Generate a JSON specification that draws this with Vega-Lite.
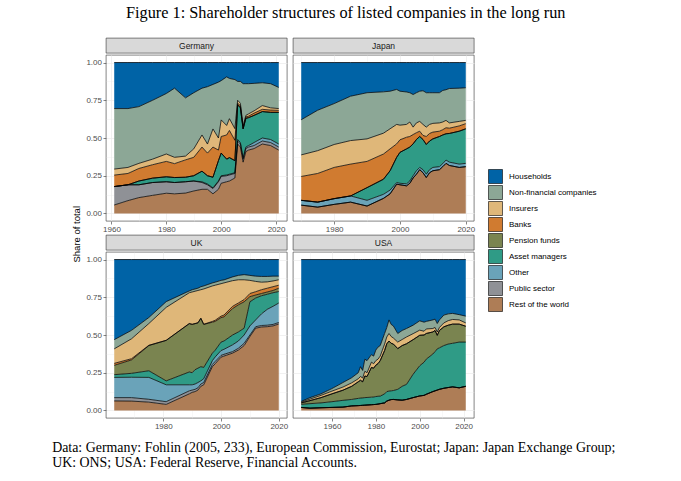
{
  "$schema": "https://vega.github.io/schema/vega-lite/v6.json",
  "padding": {"left": 52, "top": 5, "right": 5, "bottom": 5},
  "title": {"text": "Figure 1: Shareholder structures of listed companies in the long run", "font": "Liberation Serif", "fontSize": 16.3, "fontWeight": "normal", "color": "black", "anchor": "middle", "offset": 16, "dx": 12},
  "datasets": {
    "holders": [
      {"k": "rw", "holder": "Rest of the world", "rank": 1},
      {"k": "ps", "holder": "Public sector", "rank": 2},
      {"k": "ot", "holder": "Other", "rank": 3},
      {"k": "am", "holder": "Asset managers", "rank": 4},
      {"k": "pf", "holder": "Pension funds", "rank": 5},
      {"k": "bk", "holder": "Banks", "rank": 6},
      {"k": "ins", "holder": "Insurers", "rank": 7},
      {"k": "nf", "holder": "Non-financial companies", "rank": 8},
      {"k": "hh", "holder": "Households", "rank": 9}
    ],
    "shares": [
      {"c": "Germany", "year": 1961, "rw": 0.056, "ps": 0.122, "ot": 0, "am": 0, "pf": 0, "bk": 0.076, "ins": 0.040, "nf": 0.401, "hh": 0.305},
      {"c": "Germany", "year": 1966, "rw": 0.085, "ps": 0.105, "ot": 0, "am": 0, "pf": 0, "bk": 0.075, "ins": 0.040, "nf": 0.390, "hh": 0.305},
      {"c": "Germany", "year": 1970, "rw": 0.105, "ps": 0.085, "ot": 0, "am": 0.025, "pf": 0, "bk": 0.083, "ins": 0.034, "nf": 0.376, "hh": 0.292},
      {"c": "Germany", "year": 1975, "rw": 0.120, "ps": 0.085, "ot": 0, "am": 0.029, "pf": 0, "bk": 0.089, "ins": 0.037, "nf": 0.390, "hh": 0.250},
      {"c": "Germany", "year": 1980, "rw": 0.134, "ps": 0.076, "ot": 0, "am": 0.033, "pf": 0, "bk": 0.102, "ins": 0.049, "nf": 0.401, "hh": 0.205},
      {"c": "Germany", "year": 1983, "rw": 0.130, "ps": 0.075, "ot": 0, "am": 0.033, "pf": 0, "bk": 0.092, "ins": 0.042, "nf": 0.458, "hh": 0.170},
      {"c": "Germany", "year": 1987, "rw": 0.135, "ps": 0.075, "ot": 0, "am": 0.030, "pf": 0, "bk": 0.115, "ins": 0.025, "nf": 0.386, "hh": 0.234},
      {"c": "Germany", "year": 1990, "rw": 0.149, "ps": 0.066, "ot": 0, "am": 0.035, "pf": 0, "bk": 0.122, "ins": 0.056, "nf": 0.372, "hh": 0.200},
      {"c": "Germany", "year": 1993, "rw": 0.160, "ps": 0.045, "ot": 0.005, "am": 0.070, "pf": 0, "bk": 0.160, "ins": 0.080, "nf": 0.310, "hh": 0.170},
      {"c": "Germany", "year": 1995, "rw": 0.160, "ps": 0.030, "ot": 0.005, "am": 0.055, "pf": 0, "bk": 0.150, "ins": 0.060, "nf": 0.380, "hh": 0.160},
      {"c": "Germany", "year": 1997, "rw": 0.130, "ps": 0.035, "ot": 0.005, "am": 0.070, "pf": 0, "bk": 0.200, "ins": 0.120, "nf": 0.295, "hh": 0.145},
      {"c": "Germany", "year": 1999, "rw": 0.160, "ps": 0.050, "ot": 0.005, "am": 0.135, "pf": 0, "bk": 0.070, "ins": 0.080, "nf": 0.370, "hh": 0.130},
      {"c": "Germany", "year": 2000, "rw": 0.200, "ps": 0.045, "ot": 0.005, "am": 0.150, "pf": 0, "bk": 0.110, "ins": 0.110, "nf": 0.260, "hh": 0.120},
      {"c": "Germany", "year": 2002, "rw": 0.210, "ps": 0.040, "ot": 0.005, "am": 0.105, "pf": 0, "bk": 0.160, "ins": 0.063, "nf": 0.322, "hh": 0.095},
      {"c": "Germany", "year": 2003, "rw": 0.215, "ps": 0.040, "ot": 0.005, "am": 0.110, "pf": 0, "bk": 0.180, "ins": 0.078, "nf": 0.267, "hh": 0.105},
      {"c": "Germany", "year": 2005, "rw": 0.235, "ps": 0.030, "ot": 0.005, "am": 0.080, "pf": 0, "bk": 0.135, "ins": 0.077, "nf": 0.325, "hh": 0.113},
      {"c": "Germany", "year": 2006, "rw": 0.460, "ps": 0.020, "ot": 0.010, "am": 0.230, "pf": 0, "bk": 0.010, "ins": 0.020, "nf": 0.125, "hh": 0.125},
      {"c": "Germany", "year": 2007, "rw": 0.440, "ps": 0.020, "ot": 0.010, "am": 0.230, "pf": 0, "bk": 0.015, "ins": 0.015, "nf": 0.145, "hh": 0.125},
      {"c": "Germany", "year": 2008, "rw": 0.340, "ps": 0.020, "ot": 0.010, "am": 0.190, "pf": 0, "bk": 0.005, "ins": 0.015, "nf": 0.280, "hh": 0.140},
      {"c": "Germany", "year": 2009, "rw": 0.410, "ps": 0.020, "ot": 0.010, "am": 0.190, "pf": 0, "bk": 0.010, "ins": 0.010, "nf": 0.210, "hh": 0.140},
      {"c": "Germany", "year": 2010, "rw": 0.420, "ps": 0.020, "ot": 0.010, "am": 0.185, "pf": 0, "bk": 0.010, "ins": 0.015, "nf": 0.200, "hh": 0.140},
      {"c": "Germany", "year": 2012, "rw": 0.430, "ps": 0.020, "ot": 0.020, "am": 0.180, "pf": 0, "bk": 0.015, "ins": 0.015, "nf": 0.182, "hh": 0.138},
      {"c": "Germany", "year": 2015, "rw": 0.460, "ps": 0.020, "ot": 0.020, "am": 0.175, "pf": 0, "bk": 0.015, "ins": 0.025, "nf": 0.151, "hh": 0.134},
      {"c": "Germany", "year": 2018, "rw": 0.450, "ps": 0.020, "ot": 0.020, "am": 0.180, "pf": 0, "bk": 0.015, "ins": 0.015, "nf": 0.160, "hh": 0.140},
      {"c": "Germany", "year": 2021, "rw": 0.420, "ps": 0.020, "ot": 0.020, "am": 0.210, "pf": 0, "bk": 0.013, "ins": 0.012, "nf": 0.140, "hh": 0.165},

      {"c": "Japan", "year": 1970, "rw": 0.055, "ps": 0, "ot": 0.032, "am": 0, "pf": 0, "bk": 0.158, "ins": 0.143, "nf": 0.233, "hh": 0.379},
      {"c": "Japan", "year": 1975, "rw": 0.042, "ps": 0, "ot": 0.033, "am": 0, "pf": 0, "bk": 0.190, "ins": 0.151, "nf": 0.268, "hh": 0.316},
      {"c": "Japan", "year": 1980, "rw": 0.060, "ps": 0, "ot": 0.038, "am": 0, "pf": 0, "bk": 0.207, "ins": 0.152, "nf": 0.271, "hh": 0.272},
      {"c": "Japan", "year": 1985, "rw": 0.075, "ps": 0, "ot": 0.041, "am": 0, "pf": 0, "bk": 0.211, "ins": 0.156, "nf": 0.294, "hh": 0.223},
      {"c": "Japan", "year": 1990, "rw": 0.049, "ps": 0, "ot": 0.038, "am": 0.084, "pf": 0, "bk": 0.174, "ins": 0.149, "nf": 0.306, "hh": 0.200},
      {"c": "Japan", "year": 1995, "rw": 0.100, "ps": 0, "ot": 0.027, "am": 0.100, "pf": 0, "bk": 0.167, "ins": 0.138, "nf": 0.274, "hh": 0.194},
      {"c": "Japan", "year": 1997, "rw": 0.130, "ps": 0, "ot": 0.025, "am": 0.128, "pf": 0, "bk": 0.145, "ins": 0.133, "nf": 0.249, "hh": 0.190},
      {"c": "Japan", "year": 1999, "rw": 0.194, "ps": 0, "ot": 0.011, "am": 0.167, "pf": 0, "bk": 0.089, "ins": 0.129, "nf": 0.232, "hh": 0.178},
      {"c": "Japan", "year": 2000, "rw": 0.190, "ps": 0, "ot": 0.010, "am": 0.205, "pf": 0, "bk": 0.083, "ins": 0.097, "nf": 0.225, "hh": 0.190},
      {"c": "Japan", "year": 2002, "rw": 0.183, "ps": 0, "ot": 0.013, "am": 0.232, "pf": 0, "bk": 0.077, "ins": 0.085, "nf": 0.215, "hh": 0.195},
      {"c": "Japan", "year": 2003, "rw": 0.200, "ps": 0, "ot": 0.015, "am": 0.225, "pf": 0, "bk": 0.070, "ins": 0.096, "nf": 0.194, "hh": 0.200},
      {"c": "Japan", "year": 2004, "rw": 0.235, "ps": 0, "ot": 0.015, "am": 0.211, "pf": 0, "bk": 0.062, "ins": 0.049, "nf": 0.216, "hh": 0.212},
      {"c": "Japan", "year": 2005, "rw": 0.260, "ps": 0, "ot": 0.023, "am": 0.207, "pf": 0, "bk": 0.045, "ins": 0.065, "nf": 0.200, "hh": 0.200},
      {"c": "Japan", "year": 2006, "rw": 0.290, "ps": 0, "ot": 0.015, "am": 0.205, "pf": 0, "bk": 0.035, "ins": 0.065, "nf": 0.200, "hh": 0.190},
      {"c": "Japan", "year": 2007, "rw": 0.270, "ps": 0, "ot": 0.020, "am": 0.200, "pf": 0, "bk": 0.027, "ins": 0.073, "nf": 0.223, "hh": 0.187},
      {"c": "Japan", "year": 2008, "rw": 0.238, "ps": 0, "ot": 0.022, "am": 0.197, "pf": 0, "bk": 0.053, "ins": 0.062, "nf": 0.228, "hh": 0.200},
      {"c": "Japan", "year": 2009, "rw": 0.270, "ps": 0, "ot": 0.020, "am": 0.190, "pf": 0, "bk": 0.050, "ins": 0.060, "nf": 0.210, "hh": 0.200},
      {"c": "Japan", "year": 2010, "rw": 0.283, "ps": 0, "ot": 0.022, "am": 0.189, "pf": 0, "bk": 0.045, "ins": 0.058, "nf": 0.203, "hh": 0.200},
      {"c": "Japan", "year": 2012, "rw": 0.290, "ps": 0, "ot": 0.020, "am": 0.200, "pf": 0, "bk": 0.035, "ins": 0.055, "nf": 0.200, "hh": 0.200},
      {"c": "Japan", "year": 2013, "rw": 0.310, "ps": 0, "ot": 0.020, "am": 0.190, "pf": 0, "bk": 0.035, "ins": 0.051, "nf": 0.209, "hh": 0.185},
      {"c": "Japan", "year": 2014, "rw": 0.332, "ps": 0, "ot": 0.022, "am": 0.174, "pf": 0, "bk": 0.040, "ins": 0.049, "nf": 0.203, "hh": 0.180},
      {"c": "Japan", "year": 2015, "rw": 0.318, "ps": 0, "ot": 0.022, "am": 0.190, "pf": 0, "bk": 0.035, "ins": 0.035, "nf": 0.228, "hh": 0.172},
      {"c": "Japan", "year": 2018, "rw": 0.305, "ps": 0, "ot": 0.022, "am": 0.218, "pf": 0, "bk": 0.035, "ins": 0.030, "nf": 0.220, "hh": 0.170},
      {"c": "Japan", "year": 2020, "rw": 0.310, "ps": 0, "ot": 0.022, "am": 0.229, "pf": 0, "bk": 0.034, "ins": 0.022, "nf": 0.216, "hh": 0.167},

      {"c": "UK", "year": 1963, "rw": 0.063, "ps": 0.022, "ot": 0.134, "am": 0.018, "pf": 0.062, "bk": 0.013, "ins": 0.096, "nf": 0.061, "hh": 0.531},
      {"c": "UK", "year": 1969, "rw": 0.062, "ps": 0.023, "ot": 0.135, "am": 0.026, "pf": 0.089, "bk": 0.008, "ins": 0.132, "nf": 0.056, "hh": 0.469},
      {"c": "UK", "year": 1975, "rw": 0.055, "ps": 0.019, "ot": 0.145, "am": 0.044, "pf": 0.167, "bk": 0.002, "ins": 0.144, "nf": 0.040, "hh": 0.384},
      {"c": "UK", "year": 1981, "rw": 0.040, "ps": 0.018, "ot": 0.112, "am": 0.026, "pf": 0.268, "bk": 0.001, "ins": 0.218, "nf": 0.038, "hh": 0.279},
      {"c": "UK", "year": 1989, "rw": 0.110, "ps": 0.020, "ot": 0.040, "am": 0.085, "pf": 0.320, "bk": 0.001, "ins": 0.204, "nf": 0.012, "hh": 0.208},
      {"c": "UK", "year": 1990, "rw": 0.120, "ps": 0.015, "ot": 0.035, "am": 0.080, "pf": 0.320, "bk": 0.001, "ins": 0.214, "nf": 0.015, "hh": 0.200},
      {"c": "UK", "year": 1991, "rw": 0.125, "ps": 0.015, "ot": 0.035, "am": 0.095, "pf": 0.305, "bk": 0.001, "ins": 0.214, "nf": 0.015, "hh": 0.195},
      {"c": "UK", "year": 1992, "rw": 0.135, "ps": 0.015, "ot": 0.035, "am": 0.095, "pf": 0.300, "bk": 0.001, "ins": 0.214, "nf": 0.015, "hh": 0.190},
      {"c": "UK", "year": 1993, "rw": 0.160, "ps": 0.015, "ot": 0.021, "am": 0.094, "pf": 0.320, "bk": 0.001, "ins": 0.189, "nf": 0.020, "hh": 0.180},
      {"c": "UK", "year": 1994, "rw": 0.170, "ps": 0.015, "ot": 0.025, "am": 0.075, "pf": 0.285, "bk": 0.001, "ins": 0.234, "nf": 0.020, "hh": 0.175},
      {"c": "UK", "year": 1997, "rw": 0.290, "ps": 0.015, "ot": 0.025, "am": 0.050, "pf": 0.205, "bk": 0.005, "ins": 0.235, "nf": 0.020, "hh": 0.155},
      {"c": "UK", "year": 1998, "rw": 0.310, "ps": 0.015, "ot": 0.030, "am": 0.045, "pf": 0.190, "bk": 0.008, "ins": 0.232, "nf": 0.020, "hh": 0.150},
      {"c": "UK", "year": 2000, "rw": 0.353, "ps": 0.012, "ot": 0.032, "am": 0.056, "pf": 0.162, "bk": 0.010, "ins": 0.215, "nf": 0.022, "hh": 0.138},
      {"c": "UK", "year": 2001, "rw": 0.360, "ps": 0.012, "ot": 0.033, "am": 0.055, "pf": 0.160, "bk": 0.012, "ins": 0.213, "nf": 0.020, "hh": 0.135},
      {"c": "UK", "year": 2004, "rw": 0.380, "ps": 0.010, "ot": 0.045, "am": 0.065, "pf": 0.175, "bk": 0.015, "ins": 0.170, "nf": 0.025, "hh": 0.115},
      {"c": "UK", "year": 2006, "rw": 0.400, "ps": 0.012, "ot": 0.048, "am": 0.060, "pf": 0.180, "bk": 0.012, "ins": 0.154, "nf": 0.029, "hh": 0.105},
      {"c": "UK", "year": 2008, "rw": 0.430, "ps": 0.015, "ot": 0.055, "am": 0.045, "pf": 0.175, "bk": 0.015, "ins": 0.131, "nf": 0.034, "hh": 0.100},
      {"c": "UK", "year": 2010, "rw": 0.490, "ps": 0.010, "ot": 0.060, "am": 0.160, "pf": 0.034, "bk": 0.021, "ins": 0.087, "nf": 0.033, "hh": 0.105},
      {"c": "UK", "year": 2012, "rw": 0.545, "ps": 0.010, "ot": 0.045, "am": 0.145, "pf": 0.020, "bk": 0.022, "ins": 0.068, "nf": 0.035, "hh": 0.110},
      {"c": "UK", "year": 2014, "rw": 0.553, "ps": 0.010, "ot": 0.077, "am": 0.120, "pf": 0.015, "bk": 0.025, "ins": 0.050, "nf": 0.038, "hh": 0.112},
      {"c": "UK", "year": 2016, "rw": 0.555, "ps": 0.010, "ot": 0.105, "am": 0.100, "pf": 0.015, "bk": 0.025, "ins": 0.042, "nf": 0.036, "hh": 0.112},
      {"c": "UK", "year": 2018, "rw": 0.560, "ps": 0.010, "ot": 0.120, "am": 0.090, "pf": 0.015, "bk": 0.025, "ins": 0.038, "nf": 0.032, "hh": 0.110},
      {"c": "UK", "year": 2020, "rw": 0.573, "ps": 0.010, "ot": 0.129, "am": 0.076, "pf": 0.022, "bk": 0.020, "ins": 0.036, "nf": 0.024, "hh": 0.110},

      {"c": "USA", "year": 1946, "rw": 0.020, "ps": 0, "ot": 0, "am": 0.020, "pf": 0.010, "bk": 0, "ins": 0.005, "nf": 0.005, "hh": 0.940},
      {"c": "USA", "year": 1950, "rw": 0.015, "ps": 0, "ot": 0, "am": 0.030, "pf": 0.020, "bk": 0, "ins": 0.010, "nf": 0.010, "hh": 0.915},
      {"c": "USA", "year": 1955, "rw": 0.018, "ps": 0, "ot": 0, "am": 0.032, "pf": 0.035, "bk": 0, "ins": 0.015, "nf": 0.010, "hh": 0.890},
      {"c": "USA", "year": 1960, "rw": 0.020, "ps": 0, "ot": 0, "am": 0.038, "pf": 0.052, "bk": 0, "ins": 0.018, "nf": 0.017, "hh": 0.855},
      {"c": "USA", "year": 1965, "rw": 0.022, "ps": 0, "ot": 0, "am": 0.045, "pf": 0.067, "bk": 0, "ins": 0.021, "nf": 0.030, "hh": 0.815},
      {"c": "USA", "year": 1969, "rw": 0.030, "ps": 0, "ot": 0, "am": 0.043, "pf": 0.087, "bk": 0, "ins": 0.023, "nf": 0.034, "hh": 0.783},
      {"c": "USA", "year": 1972, "rw": 0.032, "ps": 0, "ot": 0, "am": 0.048, "pf": 0.110, "bk": 0, "ins": 0.020, "nf": 0.040, "hh": 0.750},
      {"c": "USA", "year": 1973, "rw": 0.033, "ps": 0, "ot": 0, "am": 0.049, "pf": 0.118, "bk": 0, "ins": 0.025, "nf": 0.065, "hh": 0.710},
      {"c": "USA", "year": 1974, "rw": 0.034, "ps": 0, "ot": 0, "am": 0.049, "pf": 0.107, "bk": 0, "ins": 0.025, "nf": 0.050, "hh": 0.735},
      {"c": "USA", "year": 1975, "rw": 0.035, "ps": 0, "ot": 0, "am": 0.050, "pf": 0.143, "bk": 0, "ins": 0.032, "nf": 0.080, "hh": 0.660},
      {"c": "USA", "year": 1976, "rw": 0.036, "ps": 0, "ot": 0, "am": 0.050, "pf": 0.139, "bk": 0, "ins": 0.025, "nf": 0.080, "hh": 0.670},
      {"c": "USA", "year": 1978, "rw": 0.038, "ps": 0, "ot": 0, "am": 0.050, "pf": 0.197, "bk": 0, "ins": 0.035, "nf": 0.050, "hh": 0.630},
      {"c": "USA", "year": 1979, "rw": 0.039, "ps": 0, "ot": 0, "am": 0.050, "pf": 0.191, "bk": 0, "ins": 0.030, "nf": 0.050, "hh": 0.640},
      {"c": "USA", "year": 1980, "rw": 0.040, "ps": 0, "ot": 0, "am": 0.052, "pf": 0.208, "bk": 0, "ins": 0.030, "nf": 0.070, "hh": 0.600},
      {"c": "USA", "year": 1981, "rw": 0.042, "ps": 0, "ot": 0, "am": 0.052, "pf": 0.216, "bk": 0, "ins": 0.030, "nf": 0.080, "hh": 0.580},
      {"c": "USA", "year": 1982, "rw": 0.045, "ps": 0, "ot": 0, "am": 0.050, "pf": 0.235, "bk": 0, "ins": 0.030, "nf": 0.070, "hh": 0.570},
      {"c": "USA", "year": 1984, "rw": 0.050, "ps": 0, "ot": 0, "am": 0.060, "pf": 0.287, "bk": 0, "ins": 0.043, "nf": 0.070, "hh": 0.490},
      {"c": "USA", "year": 1985, "rw": 0.062, "ps": 0, "ot": 0, "am": 0.063, "pf": 0.317, "bk": 0, "ins": 0.045, "nf": 0.063, "hh": 0.450},
      {"c": "USA", "year": 1986, "rw": 0.068, "ps": 0, "ot": 0, "am": 0.060, "pf": 0.332, "bk": 0, "ins": 0.050, "nf": 0.090, "hh": 0.400},
      {"c": "USA", "year": 1987, "rw": 0.072, "ps": 0, "ot": 0, "am": 0.058, "pf": 0.315, "bk": 0, "ins": 0.045, "nf": 0.080, "hh": 0.430},
      {"c": "USA", "year": 1988, "rw": 0.073, "ps": 0, "ot": 0, "am": 0.059, "pf": 0.308, "bk": 0, "ins": 0.040, "nf": 0.080, "hh": 0.440},
      {"c": "USA", "year": 1990, "rw": 0.070, "ps": 0, "ot": 0, "am": 0.070, "pf": 0.270, "bk": 0, "ins": 0.043, "nf": 0.057, "hh": 0.490},
      {"c": "USA", "year": 1992, "rw": 0.068, "ps": 0, "ot": 0, "am": 0.092, "pf": 0.270, "bk": 0, "ins": 0.040, "nf": 0.060, "hh": 0.470},
      {"c": "USA", "year": 1994, "rw": 0.073, "ps": 0, "ot": 0, "am": 0.100, "pf": 0.269, "bk": 0, "ins": 0.045, "nf": 0.056, "hh": 0.457},
      {"c": "USA", "year": 1997, "rw": 0.085, "ps": 0, "ot": 0, "am": 0.155, "pf": 0.229, "bk": 0, "ins": 0.040, "nf": 0.056, "hh": 0.435},
      {"c": "USA", "year": 2000, "rw": 0.096, "ps": 0, "ot": 0, "am": 0.200, "pf": 0.202, "bk": 0, "ins": 0.034, "nf": 0.062, "hh": 0.406},
      {"c": "USA", "year": 2002, "rw": 0.100, "ps": 0, "ot": 0, "am": 0.220, "pf": 0.180, "bk": 0, "ins": 0.025, "nf": 0.060, "hh": 0.415},
      {"c": "USA", "year": 2003, "rw": 0.107, "ps": 0, "ot": 0, "am": 0.233, "pf": 0.170, "bk": 0, "ins": 0.030, "nf": 0.050, "hh": 0.410},
      {"c": "USA", "year": 2006, "rw": 0.125, "ps": 0, "ot": 0, "am": 0.249, "pf": 0.146, "bk": 0, "ins": 0.023, "nf": 0.057, "hh": 0.400},
      {"c": "USA", "year": 2007, "rw": 0.130, "ps": 0, "ot": 0, "am": 0.260, "pf": 0.140, "bk": 0, "ins": 0.020, "nf": 0.055, "hh": 0.395},
      {"c": "USA", "year": 2008, "rw": 0.135, "ps": 0, "ot": 0, "am": 0.273, "pf": 0.090, "bk": 0, "ins": 0.022, "nf": 0.056, "hh": 0.424},
      {"c": "USA", "year": 2009, "rw": 0.140, "ps": 0, "ot": 0, "am": 0.275, "pf": 0.115, "bk": 0, "ins": 0.020, "nf": 0.050, "hh": 0.400},
      {"c": "USA", "year": 2011, "rw": 0.147, "ps": 0, "ot": 0, "am": 0.283, "pf": 0.124, "bk": 0, "ins": 0.026, "nf": 0.052, "hh": 0.368},
      {"c": "USA", "year": 2013, "rw": 0.152, "ps": 0, "ot": 0, "am": 0.288, "pf": 0.125, "bk": 0, "ins": 0.030, "nf": 0.045, "hh": 0.360},
      {"c": "USA", "year": 2015, "rw": 0.156, "ps": 0, "ot": 0, "am": 0.289, "pf": 0.127, "bk": 0, "ins": 0.031, "nf": 0.040, "hh": 0.357},
      {"c": "USA", "year": 2018, "rw": 0.150, "ps": 0, "ot": 0, "am": 0.303, "pf": 0.119, "bk": 0, "ins": 0.028, "nf": 0.035, "hh": 0.365},
      {"c": "USA", "year": 2021, "rw": 0.160, "ps": 0, "ot": 0, "am": 0.293, "pf": 0.105, "bk": 0, "ins": 0.022, "nf": 0.045, "hh": 0.375}
    ]
  },
  "vconcat": [
    {
      "title": {"text": ["Data: Germany: Fohlin (2005, 233), European Commission, Eurostat; Japan: Japan Exchange Group;", "UK: ONS; USA: Federal Reserve, Financial Accounts."],
        "orient": "bottom", "anchor": "start", "font": "Liberation Serif", "fontSize": 13.9, "fontWeight": "normal", "color": "black", "lineHeight": 15, "offset": 10, "dx": -20},
      "vconcat": [
        {
          "title": {"text": "Share of total", "orient": "left", "anchor": "middle", "font": "Liberation Sans", "fontSize": 9.5, "fontWeight": "normal", "color": "black", "offset": 4},
          "spacing": 0,
          "vconcat": [
            {
              "spacing": 4,
              "hconcat": [
                {
                  "spacing": 0,
                  "vconcat": [
                    {
                      "width": 181, "height": 15,
                      "view": {"fill": "#d9d9d9", "stroke": "#333333", "strokeWidth": 0.6},
                      "data": {"values": [{"c": "Germany"}]},
                      "mark": {"type": "text", "fontSize": 8.5, "color": "#1a1a1a"},
                      "encoding": {"text": {"field": "c"}}
                    },
                    {
                      "width": 181, "height": 166,
                      "data": {"name": "shares"},
                      "transform": [
                        {"filter": "datum.c == 'Germany'"},
                        {"fold": ["rw", "ps", "ot", "am", "pf", "bk", "ins", "nf", "hh"], "as": ["k", "v"]},
                        {"lookup": "k", "from": {"data": {"name": "holders"}, "key": "k", "fields": ["holder", "rank"]}},
                        {"stack": "v", "groupby": ["year"], "sort": [{"field": "rank", "order": "ascending"}], "as": ["y0", "y1"]}
                      ],
                      "encoding": {
                        "x": {"field": "year", "type": "quantitative", "scale": {"domain": [1958, 2024], "nice": false, "zero": false},
                          "axis": {"title": null, "values": [1960, 1970, 1980, 1990, 2000, 2010, 2020], "format": "d",
                            "labelExpr": "datum.value % 20 == 0 ? datum.label : ''",
                            "tickOpacity": {"condition": {"test": "datum.value % 20 == 0", "value": 1}, "value": 0},
                            "gridWidth": {"condition": {"test": "datum.value % 20 == 0", "value": 0.7}, "value": 0.35}}},
                        "y": {"field": "y1", "type": "quantitative", "scale": {"domain": [-0.05, 1.05], "nice": false, "zero": false},
                          "axis": {"title": null, "values": [0, 0.125, 0.25, 0.375, 0.5, 0.625, 0.75, 0.875, 1], "format": ".2f",
                            "labelExpr": "datum.value * 4 % 1 == 0 ? datum.label : ''",
                            "tickOpacity": {"condition": {"test": "datum.value * 4 % 1 == 0", "value": 1}, "value": 0},
                            "gridWidth": {"condition": {"test": "datum.value * 4 % 1 == 0", "value": 0.7}, "value": 0.35}}}
                      },
                      "layer": [
                        {"mark": {"type": "area", "interpolate": "linear"},
                          "encoding": {"y2": {"field": "y0"},
                            "color": {"field": "holder", "type": "nominal", "title": null,
                              "scale": {"domain": ["Households", "Non-financial companies", "Insurers", "Banks", "Pension funds", "Asset managers", "Other", "Public sector", "Rest of the world"],
                                "range": ["#0063a6", "#8ca796", "#dfb779", "#d07b30", "#7a8450", "#2f9b86", "#6aa3b9", "#8f9196", "#ae7d56"]}}}},
                        {"mark": {"type": "line", "color": "black", "strokeWidth": 0.75}, "encoding": {"detail": {"field": "holder"}}}
                      ]
                    }
                  ]
                },
                {
                  "spacing": 0,
                  "vconcat": [
                    {
                      "width": 181, "height": 15,
                      "view": {"fill": "#d9d9d9", "stroke": "#333333", "strokeWidth": 0.6},
                      "data": {"values": [{"c": "Japan"}]},
                      "mark": {"type": "text", "fontSize": 8.5, "color": "#1a1a1a"},
                      "encoding": {"text": {"field": "c"}}
                    },
                    {
                      "width": 181, "height": 166,
                      "data": {"name": "shares"},
                      "transform": [
                        {"filter": "datum.c == 'Japan'"},
                        {"fold": ["rw", "ps", "ot", "am", "pf", "bk", "ins", "nf", "hh"], "as": ["k", "v"]},
                        {"lookup": "k", "from": {"data": {"name": "holders"}, "key": "k", "fields": ["holder", "rank"]}},
                        {"stack": "v", "groupby": ["year"], "sort": [{"field": "rank", "order": "ascending"}], "as": ["y0", "y1"]}
                      ],
                      "encoding": {
                        "x": {"field": "year", "type": "quantitative", "scale": {"domain": [1967.5, 2022.5], "nice": false, "zero": false},
                          "axis": {"title": null, "values": [1970, 1980, 1990, 2000, 2010, 2020], "format": "d",
                            "labelExpr": "datum.value % 20 == 0 ? datum.label : ''",
                            "tickOpacity": {"condition": {"test": "datum.value % 20 == 0", "value": 1}, "value": 0},
                            "gridWidth": {"condition": {"test": "datum.value % 20 == 0", "value": 0.7}, "value": 0.35}}},
                        "y": {"field": "y1", "type": "quantitative", "scale": {"domain": [-0.05, 1.05], "nice": false, "zero": false},
                          "axis": {"title": null, "labels": false, "ticks": false, "values": [0, 0.125, 0.25, 0.375, 0.5, 0.625, 0.75, 0.875, 1],
                            "gridWidth": {"condition": {"test": "datum.value * 4 % 1 == 0", "value": 0.7}, "value": 0.35}}}
                      },
                      "layer": [
                        {"mark": {"type": "area", "interpolate": "linear"},
                          "encoding": {"y2": {"field": "y0"},
                            "color": {"field": "holder", "type": "nominal", "title": null,
                              "scale": {"domain": ["Households", "Non-financial companies", "Insurers", "Banks", "Pension funds", "Asset managers", "Other", "Public sector", "Rest of the world"],
                                "range": ["#0063a6", "#8ca796", "#dfb779", "#d07b30", "#7a8450", "#2f9b86", "#6aa3b9", "#8f9196", "#ae7d56"]}}}},
                        {"mark": {"type": "line", "color": "black", "strokeWidth": 0.75}, "encoding": {"detail": {"field": "holder"}}}
                      ]
                    }
                  ]
                }
              ]
            },
            {
              "spacing": 4,
              "hconcat": [
                {
                  "spacing": 0,
                  "vconcat": [
                    {
                      "width": 181, "height": 15,
                      "view": {"fill": "#d9d9d9", "stroke": "#333333", "strokeWidth": 0.6},
                      "data": {"values": [{"c": "UK"}]},
                      "mark": {"type": "text", "fontSize": 8.5, "color": "#1a1a1a"},
                      "encoding": {"text": {"field": "c"}}
                    },
                    {
                      "width": 181, "height": 166,
                      "data": {"name": "shares"},
                      "transform": [
                        {"filter": "datum.c == 'UK'"},
                        {"fold": ["rw", "ps", "ot", "am", "pf", "bk", "ins", "nf", "hh"], "as": ["k", "v"]},
                        {"lookup": "k", "from": {"data": {"name": "holders"}, "key": "k", "fields": ["holder", "rank"]}},
                        {"stack": "v", "groupby": ["year"], "sort": [{"field": "rank", "order": "ascending"}], "as": ["y0", "y1"]}
                      ],
                      "encoding": {
                        "x": {"field": "year", "type": "quantitative", "scale": {"domain": [1960.15, 2022.85], "nice": false, "zero": false},
                          "axis": {"title": null, "values": [1970, 1980, 1990, 2000, 2010, 2020], "format": "d",
                            "labelExpr": "datum.value % 20 == 0 ? datum.label : ''",
                            "tickOpacity": {"condition": {"test": "datum.value % 20 == 0", "value": 1}, "value": 0},
                            "gridWidth": {"condition": {"test": "datum.value % 20 == 0", "value": 0.7}, "value": 0.35}}},
                        "y": {"field": "y1", "type": "quantitative", "scale": {"domain": [-0.05, 1.05], "nice": false, "zero": false},
                          "axis": {"title": null, "values": [0, 0.125, 0.25, 0.375, 0.5, 0.625, 0.75, 0.875, 1], "format": ".2f",
                            "labelExpr": "datum.value * 4 % 1 == 0 ? datum.label : ''",
                            "tickOpacity": {"condition": {"test": "datum.value * 4 % 1 == 0", "value": 1}, "value": 0},
                            "gridWidth": {"condition": {"test": "datum.value * 4 % 1 == 0", "value": 0.7}, "value": 0.35}}}
                      },
                      "layer": [
                        {"mark": {"type": "area", "interpolate": "linear"},
                          "encoding": {"y2": {"field": "y0"},
                            "color": {"field": "holder", "type": "nominal", "title": null,
                              "scale": {"domain": ["Households", "Non-financial companies", "Insurers", "Banks", "Pension funds", "Asset managers", "Other", "Public sector", "Rest of the world"],
                                "range": ["#0063a6", "#8ca796", "#dfb779", "#d07b30", "#7a8450", "#2f9b86", "#6aa3b9", "#8f9196", "#ae7d56"]}}}},
                        {"mark": {"type": "line", "color": "black", "strokeWidth": 0.75}, "encoding": {"detail": {"field": "holder"}}}
                      ]
                    }
                  ]
                },
                {
                  "spacing": 0,
                  "vconcat": [
                    {
                      "width": 181, "height": 15,
                      "view": {"fill": "#d9d9d9", "stroke": "#333333", "strokeWidth": 0.6},
                      "data": {"values": [{"c": "USA"}]},
                      "mark": {"type": "text", "fontSize": 8.5, "color": "#1a1a1a"},
                      "encoding": {"text": {"field": "c"}}
                    },
                    {
                      "width": 181, "height": 166,
                      "data": {"name": "shares"},
                      "transform": [
                        {"filter": "datum.c == 'USA'"},
                        {"fold": ["rw", "ps", "ot", "am", "pf", "bk", "ins", "nf", "hh"], "as": ["k", "v"]},
                        {"lookup": "k", "from": {"data": {"name": "holders"}, "key": "k", "fields": ["holder", "rank"]}},
                        {"stack": "v", "groupby": ["year"], "sort": [{"field": "rank", "order": "ascending"}], "as": ["y0", "y1"]}
                      ],
                      "encoding": {
                        "x": {"field": "year", "type": "quantitative", "scale": {"domain": [1942.25, 2024.75], "nice": false, "zero": false},
                          "axis": {"title": null, "values": [1950, 1960, 1970, 1980, 1990, 2000, 2010, 2020], "format": "d",
                            "labelExpr": "datum.value % 20 == 0 ? datum.label : ''",
                            "tickOpacity": {"condition": {"test": "datum.value % 20 == 0", "value": 1}, "value": 0},
                            "gridWidth": {"condition": {"test": "datum.value % 20 == 0", "value": 0.7}, "value": 0.35}}},
                        "y": {"field": "y1", "type": "quantitative", "scale": {"domain": [-0.05, 1.05], "nice": false, "zero": false},
                          "axis": {"title": null, "labels": false, "ticks": false, "values": [0, 0.125, 0.25, 0.375, 0.5, 0.625, 0.75, 0.875, 1],
                            "gridWidth": {"condition": {"test": "datum.value * 4 % 1 == 0", "value": 0.7}, "value": 0.35}}}
                      },
                      "layer": [
                        {"mark": {"type": "area", "interpolate": "linear"},
                          "encoding": {"y2": {"field": "y0"},
                            "color": {"field": "holder", "type": "nominal", "title": null,
                              "scale": {"domain": ["Households", "Non-financial companies", "Insurers", "Banks", "Pension funds", "Asset managers", "Other", "Public sector", "Rest of the world"],
                                "range": ["#0063a6", "#8ca796", "#dfb779", "#d07b30", "#7a8450", "#2f9b86", "#6aa3b9", "#8f9196", "#ae7d56"]}}}},
                        {"mark": {"type": "line", "color": "black", "strokeWidth": 0.75}, "encoding": {"detail": {"field": "holder"}}}
                      ]
                    }
                  ]
                }
              ]
            }
          ]
        }
      ]
    }
  ],
  "config": {
    "font": "Liberation Sans",
    "view": {"stroke": "#333333", "strokeWidth": 0.6},
    "axis": {"labelFont": "Liberation Sans", "labelFontSize": 8, "labelColor": "#4d4d4d", "tickColor": "#333333", "tickWidth": 0.6, "tickSize": 3, "labelPadding": 1.5, "domain": false, "gridColor": "#ebebeb", "titleFont": "Liberation Sans", "titleFontSize": 9.5, "titleFontWeight": "normal", "titleColor": "black"},
    "legend": {"orient": "none", "legendX": 382, "legendY": 131, "symbolType": "square", "symbolSize": 196, "symbolStrokeColor": "black", "symbolStrokeWidth": 0.6, "symbolOpacity": 1, "labelFont": "Liberation Sans", "labelFontSize": 8, "labelColor": "black", "labelOffset": 6, "rowPadding": -1.8}
  }
}
